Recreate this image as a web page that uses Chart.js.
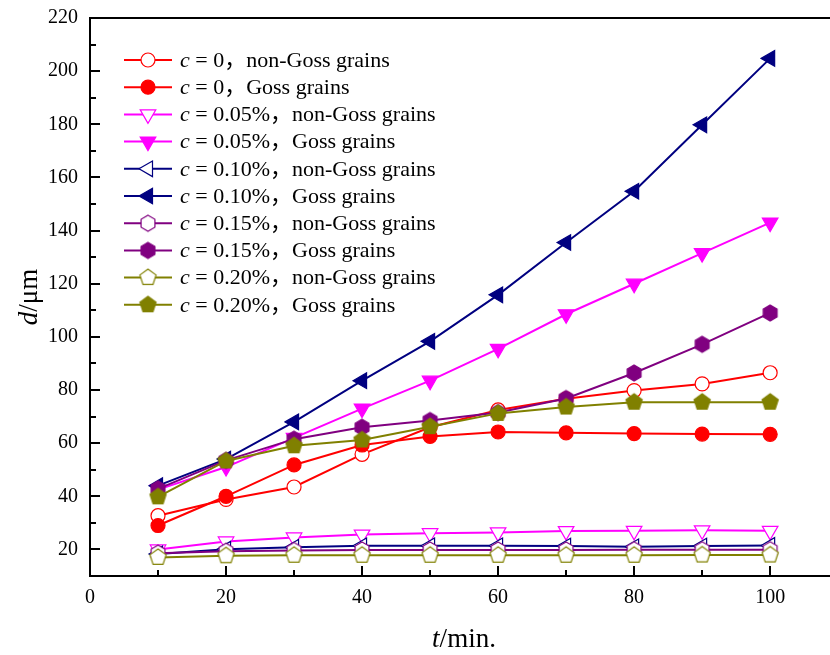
<!DOCTYPE html>
<html>
<head>
<meta charset="utf-8">
<script src="https://cdn.jsdelivr.net/npm/chart.js@4.4.0/dist/chart.umd.min.js"></script>
<style>
  html, body { margin: 0; padding: 0; background: #fff; overflow: hidden; }
  canvas { display: block; }
</style>
</head>
<body>
<canvas id="myChart" width="830" height="655"></canvas>
<script>
// annealing time, min
var times = [10, 20, 30, 40, 50, 60, 70, 80, 90, 100];

// mean grain size d, um
var c0Non   = [32.7, 38.8, 43.5, 55.8, 66.0, 72.5, 76.7, 79.8, 82.3, 86.5];
var c0Goss  = [29.0, 40.0, 51.8, 59.3, 62.5, 64.2, 63.9, 63.6, 63.4, 63.3];
var c005Non  = [20.0, 23.0, 24.5, 25.6, 26.1, 26.4, 26.9, 27.0, 27.2, 27.0];
var c005Goss = [42.5, 51.0, 62.0, 73.0, 83.5, 95.5, 108.5, 120.0, 131.5, 143.0];
var c010Non  = [18.3, 20.1, 20.8, 21.4, 21.4, 21.4, 21.3, 21.0, 21.3, 21.5];
var c010Goss = [44.0, 54.0, 68.0, 83.5, 98.3, 115.8, 135.5, 154.8, 179.8, 204.8];
var c015Non  = [18.6, 19.3, 19.6, 19.8, 19.8, 19.8, 19.8, 19.9, 19.9, 19.9];
var c015Goss = [42.8, 53.5, 61.5, 66.0, 68.5, 71.5, 76.8, 86.4, 97.2, 109.0];
var c020Non  = [17.0, 17.6, 17.8, 17.8, 17.8, 17.8, 17.8, 17.8, 17.9, 17.9];
var c020Goss = [39.8, 53.3, 59.0, 61.2, 66.2, 71.2, 73.6, 75.4, 75.4, 75.4];

var labels = [
  'c = 0，non-Goss grains',
  'c = 0，Goss grains',
  'c = 0.05%，non-Goss grains',
  'c = 0.05%，Goss grains',
  'c = 0.10%，non-Goss grains',
  'c = 0.10%，Goss grains',
  'c = 0.15%，non-Goss grains',
  'c = 0.15%，Goss grains',
  'c = 0.20%，non-Goss grains',
  'c = 0.20%，Goss grains'
];
var values = [c0Non, c0Goss, c005Non, c005Goss, c010Non, c010Goss, c015Non, c015Goss, c020Non, c020Goss];

var RED = '#FF0000', MAG = '#FF00FF', NAVY = '#000080', PURP = '#800080', OLIVE = '#808000';
var SERIF = '"Liberation Serif", "Times New Roman", serif';
var SERIF_CJK = '"Liberation Serif", "Noto Sans CJK SC", serif';

// polygon markers (hexagon / pentagon) as little canvases
function polygonImage(sides, radius, stroke, fill, lw) {
  var size = Math.round(radius * 2 + lw * 2 + 2);
  var cv = document.createElement('canvas');
  cv.width = size; cv.height = size;
  var g = cv.getContext('2d');
  var c = size / 2;
  g.beginPath();
  for (var i = 0; i < sides; i++) {
    var a = -Math.PI / 2 + i * 2 * Math.PI / sides;
    var px = c + radius * Math.cos(a), py = c + radius * Math.sin(a);
    if (i === 0) g.moveTo(px, py); else g.lineTo(px, py);
  }
  g.closePath();
  g.fillStyle = fill;
  g.fill();
  g.lineWidth = lw;
  g.strokeStyle = stroke;
  g.stroke();
  return cv;
}

var hexOpen = polygonImage(6, 8, PURP, '#fff', 1.2);
var hexFull = polygonImage(6, 8, PURP, PURP, 1.2);
var penOpen = polygonImage(5, 8.5, OLIVE, '#fff', 1.2);
var penFull = polygonImage(5, 8.5, OLIVE, OLIVE, 1.2);

var styles = [
  {color: RED,   point: 'circle',   rot: 0,   radius: 7, fill: '#fff'},
  {color: RED,   point: 'circle',   rot: 0,   radius: 7, fill: RED},
  {color: MAG,   point: 'triangle', rot: 180, radius: 9, fill: '#fff'},
  {color: MAG,   point: 'triangle', rot: 180, radius: 9, fill: MAG},
  {color: NAVY,  point: 'triangle', rot: -90, radius: 9, fill: '#fff'},
  {color: NAVY,  point: 'triangle', rot: -90, radius: 9, fill: NAVY},
  {color: PURP,  point: hexOpen,    rot: 0,   radius: 8, fill: '#fff'},
  {color: PURP,  point: hexFull,    rot: 0,   radius: 8, fill: PURP},
  {color: OLIVE, point: penOpen,    rot: 0,   radius: 8, fill: '#fff'},
  {color: OLIVE, point: penFull,    rot: 0,   radius: 8, fill: OLIVE}
];

var datasets = values.map(function (vals, i) {
  var s = styles[i];
  return {
    label: labels[i],
    data: vals.map(function (v, k) { return {x: times[k], y: v}; }),
    borderColor: s.color,
    backgroundColor: s.fill,
    borderWidth: 2,
    pointStyle: s.point,
    pointRotation: s.rot,
    pointRadius: s.radius,
    pointBorderWidth: 1.2,
    pointBorderColor: s.color,
    pointBackgroundColor: s.fill,
    order: values.length - i
  };
});

// inward tick marks, top frame line, axis titles and the legend box
var decorations = {
  id: 'decorations',
  afterDraw: function (chart) {
    var ctx = chart.ctx, area = chart.chartArea;
    var xs = chart.scales.x, ys = chart.scales.y;
    ctx.save();
    ctx.strokeStyle = '#000';
    ctx.lineWidth = 2;
    ctx.beginPath();
    ctx.moveTo(area.left - 1, area.top);
    ctx.lineTo(chart.width, area.top);
    ctx.stroke();

    ctx.beginPath();
    xs.ticks.forEach(function (t) {
      if (t.value <= 0) return;
      var px = Math.round(xs.getPixelForValue(t.value));
      var len = t.value % 20 === 0 ? 10 : 6;
      ctx.moveTo(px, area.bottom);
      ctx.lineTo(px, area.bottom - len);
    });
    ys.ticks.forEach(function (t) {
      if (t.value >= 220) return;
      var py = Math.round(ys.getPixelForValue(t.value));
      var len = t.value % 20 === 0 ? 10 : 6;
      ctx.moveTo(area.left, py);
      ctx.lineTo(area.left + len, py);
    });
    ctx.stroke();

    // axis titles with italic symbols
    ctx.fillStyle = '#000';
    ctx.textBaseline = 'alphabetic';
    ctx.textAlign = 'left';
    var it = 'italic 27px ' + SERIF, rm = '27px ' + SERIF;
    ctx.font = it; var wT = ctx.measureText('t').width;
    ctx.font = rm; var wR = ctx.measureText('/min.').width;
    var x0 = 464 - (wT + wR) / 2;
    ctx.font = it; ctx.fillText('t', x0, 647);
    ctx.font = rm; ctx.fillText('/min.', x0 + wT, 647);

    ctx.save();
    ctx.translate(37, 297);
    ctx.rotate(-Math.PI / 2);
    ctx.font = it; var wD = ctx.measureText('d').width;
    ctx.font = rm; var wU = ctx.measureText('/μm').width;
    var y0 = -(wD + wU) / 2;
    ctx.font = it; ctx.fillText('d', y0, 0);
    ctx.font = rm; ctx.fillText('/μm', y0 + wD, 0);
    ctx.restore();

    // legend
    chart.data.datasets.forEach(function (ds, i) {
      var s = styles[i];
      var cy = 60 + i * 27.2;
      ctx.strokeStyle = s.color;
      ctx.lineWidth = 2;
      ctx.beginPath();
      ctx.moveTo(124, cy);
      ctx.lineTo(172, cy);
      ctx.stroke();
      ctx.fillStyle = s.fill;
      ctx.strokeStyle = s.color;
      ctx.lineWidth = 1.2;
      Chart.helpers.drawPoint(ctx, {pointStyle: s.point, rotation: s.rot, radius: s.radius, borderWidth: 1.2}, 148, cy);
      ctx.fillStyle = '#000';
      ctx.textBaseline = 'middle';
      ctx.font = 'italic 22px ' + SERIF;
      ctx.fillText(ds.label.charAt(0), 180, cy + 1);
      var w = ctx.measureText(ds.label.charAt(0)).width;
      ctx.font = '22px ' + SERIF_CJK;
      ctx.fillText(ds.label.slice(1), 180 + w, cy + 1);
    });
    ctx.restore();
  }
};

var ctx = document.getElementById('myChart').getContext('2d');
var myChart = new Chart(ctx, {
  type: 'line',
  data: { datasets: datasets },
  options: {
    responsive: false,
    animation: false,
    events: [],
    layout: { autoPadding: false, padding: { top: 18, left: 0, right: 0, bottom: 0 } },
    plugins: { legend: { display: false }, tooltip: { enabled: false } },
    scales: {
      x: {
        type: 'linear',
        min: 0,
        max: 108.8,
        afterFit: function (s) { s.height = 79; s.paddingLeft = 0; s.paddingRight = 0; },
        grid: { display: true, drawOnChartArea: false, drawTicks: false },
        border: { display: true, color: '#000', width: 2 },
        ticks: {
          stepSize: 10,
          includeBounds: false,
          autoSkip: false,
          maxRotation: 0,
          padding: 10,
          color: '#000',
          font: { family: SERIF, size: 20 },
          callback: function (v) { return v % 20 === 0 ? String(v) : ''; }
        }
      },
      y: {
        type: 'linear',
        min: 10,
        max: 220,
        afterFit: function (s) { s.width = 90; s.paddingTop = 0; s.paddingBottom = 0; },
        grid: { display: true, drawOnChartArea: false, drawTicks: false },
        border: { display: true, color: '#000', width: 2 },
        ticks: {
          stepSize: 10,
          autoSkip: false,
          padding: 12,
          color: '#000',
          font: { family: SERIF, size: 20 },
          callback: function (v) { return (v % 20 === 0 && v >= 20) ? String(v) : ''; }
        }
      }
    }
  },
  plugins: [decorations]
});
</script>
</body>
</html>
